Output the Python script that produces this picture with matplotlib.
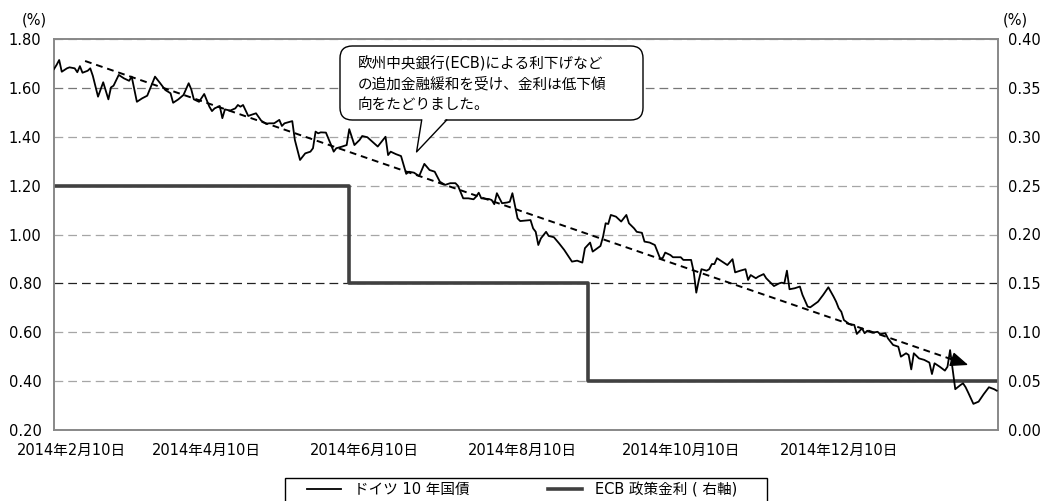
import numpy as np
import matplotlib
matplotlib.use("Agg")
import matplotlib.pyplot as plt
import matplotlib.dates as mdates
from matplotlib.patches import FancyBboxPatch, Polygon, Rectangle
from matplotlib.ticker import FuncFormatter, FormatStrFormatter
from matplotlib.transforms import ScaledTranslation

plt.rcParams['font.family'] = ['DejaVu Sans', 'Noto Sans CJK JP']
plt.rcParams['font.size'] = 10.5

# ドイツ10年国債利回り (2014/2/10 からの経過日数, %)
start = np.datetime64('2014-02-10')
bund_day = [
    0, 1, 2, 3, 5, 6, 8, 9, 10, 11, 13, 14, 15, 17, 19, 21, 22, 23, 25, 27,
    29, 30, 32, 34, 36, 39, 41, 43, 45, 46, 48, 50, 52, 53, 54, 56, 58, 60, 61, 62,
    64, 65, 66, 68, 70, 71, 72, 73, 75, 76, 78, 80, 82, 83, 85, 87, 88, 89, 92, 93,
    95, 97, 99, 100, 101, 102, 103, 105, 107, 108, 109, 111, 113, 114, 116, 118, 119, 121, 125, 128,
    129, 130, 132, 134, 136, 137, 139, 141, 143, 145, 147, 149, 151, 153, 155, 156, 158, 160, 162, 163,
    164, 165, 168, 169, 170, 171, 173, 175, 176, 177, 179, 180,
    182, 184, 185, 186, 187, 188, 190, 191, 193, 195, 197, 200, 202, 204, 205, 207, 208, 211, 212, 213,
    214, 215, 217, 219, 221, 222, 224, 225, 227, 228, 230, 232, 234, 235, 236, 238, 239, 242,
    243, 244, 246, 247, 248, 249, 250, 252, 253, 254, 255, 256, 258, 260, 262, 263, 265, 267, 268, 269,
    271, 272, 274, 275, 278, 280, 281, 282, 283, 284, 286, 288, 289, 291, 292, 295, 297, 299, 301, 302,
    303, 304, 305, 307, 309, 310, 312, 313, 314, 316, 318, 319, 321, 322, 324, 326, 327, 329, 330, 331,
    332, 334, 336, 338, 339, 340, 342, 344, 345, 346, 348, 350, 351, 352, 353, 355, 357, 359, 361, 363,
    364,
]
bund_yield = [
    1.677, 1.694, 1.714, 1.666, 1.680, 1.684, 1.680, 1.664, 1.689, 1.662, 1.670, 1.680, 1.649, 1.564, 1.623, 1.553, 1.602, 1.609, 1.653, 1.639,
    1.629, 1.646, 1.543, 1.557, 1.568, 1.646, 1.619, 1.591, 1.578, 1.539, 1.553, 1.571, 1.619, 1.594, 1.553, 1.543, 1.575, 1.523, 1.505, 1.516,
    1.526, 1.476, 1.512, 1.507, 1.516, 1.530, 1.523, 1.530, 1.485, 1.489, 1.496, 1.466, 1.452, 1.455, 1.455, 1.469, 1.444, 1.455, 1.464, 1.387,
    1.305, 1.332, 1.339, 1.353, 1.421, 1.414, 1.418, 1.417, 1.366, 1.339, 1.353, 1.359, 1.366, 1.431, 1.366, 1.387, 1.403, 1.398, 1.360, 1.400,
    1.325, 1.339, 1.329, 1.321, 1.248, 1.257, 1.253, 1.239, 1.289, 1.264, 1.257, 1.216, 1.203, 1.210, 1.210, 1.199, 1.148, 1.148, 1.144, 1.155,
    1.171, 1.148, 1.145, 1.141, 1.124, 1.169, 1.128, 1.131, 1.134, 1.169, 1.066, 1.055,
    1.057, 1.059, 1.025, 1.011, 0.957, 0.984, 1.011, 0.994, 0.989, 0.964, 0.937, 0.889, 0.893, 0.885, 0.944, 0.967, 0.930, 0.953, 0.991, 1.046,
    1.043, 1.080, 1.073, 1.053, 1.080, 1.046, 1.025, 1.011, 1.007, 0.971, 0.967, 0.957, 0.903, 0.903, 0.926, 0.916, 0.907, 0.907,
    0.896, 0.896, 0.896, 0.848, 0.762, 0.814, 0.858, 0.852, 0.858, 0.879, 0.879, 0.903, 0.889, 0.875, 0.899, 0.845, 0.852, 0.858, 0.814, 0.834,
    0.821, 0.828, 0.838, 0.821, 0.789, 0.800, 0.803, 0.800, 0.852, 0.776, 0.780, 0.787, 0.753, 0.705, 0.702, 0.725, 0.753, 0.784, 0.746, 0.725,
    0.698, 0.684, 0.650, 0.634, 0.630, 0.593, 0.616, 0.596, 0.606, 0.598, 0.602, 0.592, 0.596, 0.575, 0.548, 0.541, 0.500, 0.514, 0.507, 0.448,
    0.514, 0.493, 0.487, 0.476, 0.429, 0.473, 0.459, 0.443, 0.459, 0.527, 0.367, 0.384, 0.391, 0.375, 0.353, 0.307, 0.316, 0.347, 0.375, 0.367,
    0.361,
]

# ECB 政策金利 (右軸)
ecb_dates = ['2014-02-10', '2014-06-04', '2014-09-04', '2015-02-09']
ecb_rate = [0.25, 0.15, 0.05, 0.05]

tick_dates = ['2014-02-10', '2014-04-10', '2014-06-10', '2014-08-10', '2014-10-10', '2014-12-10']
left_ticks = [0.20, 0.40, 0.60, 0.80, 1.00, 1.20, 1.40, 1.60, 1.80]
right_ticks = [0.00, 0.05, 0.10, 0.15, 0.20, 0.25, 0.30, 0.35, 0.40]

# 下降トレンドの矢印 (開始日, 値) -> (終了日, 値)
trend_start = ('2014-02-22', 1.71)
trend_end = ('2015-01-29', 0.466)

note_text = "欧州中央銀行(ECB)による利下げなど\nの追加金融緩和を受け、金利は低下傾\n向をたどりました。"
note_tip = ('2014-06-30', 1.338)

W, H = 1046, 501
fig = plt.figure(figsize=(W / 100, H / 100), dpi=100)
ax = fig.add_axes([54 / W, 1 - 430 / H, 944 / W, 391 / H])
ax2 = ax.twinx()
ax.set_zorder(ax2.get_zorder() + 1)
ax.patch.set_visible(False)

bund_dates = start + np.array(bund_day)
line_bund, = ax.plot(bund_dates, bund_yield, color='black', lw=1.3, zorder=3)
line_ecb, = ax2.plot(np.array(ecb_dates, dtype='datetime64[D]'), ecb_rate,
                     drawstyle='steps-post', color='#404040', lw=2.6, zorder=3)

x0 = mdates.date2num(start)
ax.set_xlim(x0, x0 + 364.5)
ax.set_ylim(0.2, 1.8)
ax2.set_ylim(0.0, 0.4)

ax.set_yticks(left_ticks)
ax2.set_yticks(right_ticks)
ax.yaxis.set_major_formatter(FormatStrFormatter('%.2f'))
ax2.yaxis.set_major_formatter(FormatStrFormatter('%.2f'))

ax.set_xticks(mdates.date2num(np.array(tick_dates, dtype='datetime64[D]')))

def jp_date(x, pos=None):
    d = mdates.num2date(x)
    return f"{d.year}年{d.month}月{d.day}日"

ax.xaxis.set_major_formatter(FuncFormatter(jp_date))

ax.tick_params(axis='y', length=0, pad=9, labelsize=10.5)
ax2.tick_params(axis='y', length=0, pad=7, labelsize=10.5)
ax.tick_params(axis='x', length=0, pad=9, labelsize=10.5)

# グリッド線 (右軸側に引いて ECB の線の下に置く)
ax2.yaxis.grid(True, linestyle=(0, (7, 4)), color='#a6a6a6', lw=0.9)
ax2.set_axisbelow(True)
for val, gl in zip(right_ticks, ax2.get_ygridlines()):
    if abs(val - 0.15) < 1e-6:
        gl.set_color('#222222')
    elif abs(val - 0.35) < 1e-6:
        gl.set_color('#777777')

for a in (ax, ax2):
    for s in a.spines.values():
        s.set_color('#888888')
        s.set_linewidth(1.2)

# 最初の日付ラベルは少し右へ
first = ax.xaxis.get_major_ticks()[0].label1
first.set_transform(first.get_transform() + ScaledTranslation(0.17, 0, fig.dpi_scale_trans))

# トレンド矢印 (破線 + 塗りつぶしの矢じり)
t0 = mdates.date2num(np.datetime64(trend_start[0]))
t1 = mdates.date2num(np.datetime64(trend_end[0]))
frac = 0.982
mid = (t0 + (t1 - t0) * frac, trend_start[1] + (trend_end[1] - trend_start[1]) * frac)
ax.plot([t0, mid[0]], [trend_start[1], mid[1]], color='black', lw=1.4,
        linestyle=(0, (3.5, 2.5)), zorder=4)
ax.annotate('', xy=(t1, trend_end[1]), xytext=mid,
            arrowprops=dict(arrowstyle='-|>,head_length=1.1,head_width=0.45',
                            lw=1.0, color='black', mutation_scale=10,
                            shrinkA=0, shrinkB=0),
            zorder=4)

# 吹き出し
bb = ax.get_window_extent()
aspect = bb.width / bb.height
bx0, bx1 = (340 - 54) / 944, (643 - 54) / 944
by0, by1 = (430 - 120) / 391, (430 - 46) / 391
box = FancyBboxPatch((bx0, by0), bx1 - bx0, by1 - by0,
                     boxstyle='round,pad=0,rounding_size=0.013',
                     mutation_aspect=aspect, transform=ax.transAxes,
                     facecolor='white', edgecolor='black', lw=1.0, zorder=6)
ax.add_patch(box)
tip = ax.transAxes.inverted().transform(
    ax.transData.transform((mdates.date2num(np.datetime64(note_tip[0])), note_tip[1])))
tx0, tx1 = (421.7 - 54) / 944, (446.7 - 54) / 944
tail = Polygon([(tx0, by0 + 0.006), tip, (tx1, by0 + 0.006)], closed=True,
               facecolor='white', edgecolor='none', transform=ax.transAxes, zorder=7)
ax.add_patch(tail)
ax.plot([tx0, tip[0], tx1], [by0, tip[1], by0], color='black', lw=1.0,
        transform=ax.transAxes, zorder=8, clip_on=False)
ax.text((358 - 54) / 944, 0.956, note_text, transform=ax.transAxes,
        ha='left', va='top', fontsize=10.5, linespacing=1.42, zorder=9)

# 単位
fig.text(22 / W, 1 - 20 / H, '(%)', ha='left', va='center', fontsize=10.5)
fig.text(1003 / W, 1 - 20 / H, '(%)', ha='left', va='center', fontsize=10.5)

# 凡例
frame = Rectangle((285 / W, -0.05), (767 - 285) / W, 0.05 + 1 - 478 / H,
                  transform=fig.transFigure, fill=False, edgecolor='black', lw=1.0)
fig.patches.append(frame)
fig.legend([line_bund, line_ecb], ['ドイツ 10 年国債', 'ECB 政策金利 ( 右軸)'],
           loc='upper left', bbox_to_anchor=(307 / W, 1 - 482 / H), ncol=2,
           frameon=False, borderpad=0, borderaxespad=0, handlelength=2.3,
           handletextpad=0.9, columnspacing=5.4, fontsize=10.5)

fig.savefig('out.png', dpi=100)
